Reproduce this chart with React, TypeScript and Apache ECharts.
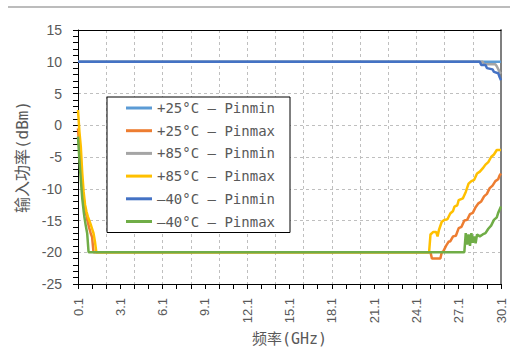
import React, { useEffect, useRef } from "react";
import * as echarts from "echarts";

// ---- data (frequency in GHz, power in dBm) ----
const seriesNames = [
  "+25°C – Pinmin",
  "+25°C – Pinmax",
  "+85°C – Pinmin",
  "+85°C – Pinmax",
  "–40°C – Pinmin",
  "–40°C – Pinmax",
];
const seriesColors = ["#5B9BD5", "#ED7D31", "#A5A5A5", "#FFC000", "#4472C4", "#70AD47"];

const f25min = [0.1, 30.1];
const v25min = [10, 10];

const f25max = [0.1, 0.2, 0.3, 0.4, 0.5, 0.6, 0.7, 0.8, 0.9, 1.0, 1.1, 1.2, 25.1, 25.2, 25.8, 25.9, 26.0, 26.2, 26.4, 26.5, 26.7, 26.9, 27.1, 27.3, 27.5, 27.7, 27.9, 28.1, 28.3, 28.5, 28.7, 28.9, 29.1, 29.3, 29.5, 29.7, 29.9, 30.0, 30.1];
const v25max = [-0.5, -4, -7, -9.5, -11.5, -13, -14.2, -15.3, -16.2, -17, -17.6, -20, -20, -21, -21, -20, -19.9, -19, -18.3, -18.3, -17.5, -17.4, -16.2, -16, -15, -14.9, -14, -13.8, -12.9, -12.3, -12, -11.2, -10.8, -9.9, -9.5, -8.8, -8.5, -7.9, -7.6];

const f85min = [0.1, 28.8, 28.9, 29.7, 29.8, 30.0, 30.1];
const v85min = [10, 10, 9.6, 9.6, 9.3, 8.4, 8.1];

const f85max = [0.1, 0.2, 0.3, 0.4, 0.5, 0.6, 0.7, 0.8, 0.9, 1.0, 1.1, 1.2, 1.3, 1.4, 25.0, 25.1, 25.3, 25.5, 25.6, 25.7, 25.9, 26.1, 26.3, 26.5, 26.7, 26.8, 27.0, 27.1, 27.4, 27.6, 27.8, 28.0, 28.2, 28.4, 28.6, 28.8, 29.0, 29.2, 29.4, 29.6, 29.8, 30.1];
const v85max = [2.4, -1, -3.4, -7.5, -10.5, -12.5, -13.6, -14.4, -15, -15.6, -16.3, -17, -18.3, -20, -20, -17.2, -16.8, -16.8, -17.5, -16.5, -15.2, -14.9, -14.8, -13.9, -13.5, -12.8, -12.6, -11.8, -11.5, -10.5, -9.2, -8.8, -8.6, -7.6, -7.3, -6.8, -6.2, -5.8, -5, -4.6, -3.9, -3.9];

const fm40min = [0.1, 28.6, 28.7, 29.0, 29.1, 29.5, 29.6, 29.9, 30.0, 30.1];
const vm40min = [10, 10, 9.5, 9.5, 9.0, 8.8, 8.4, 8.2, 7.6, 7.1];

const fm40max = [0.1, 0.2, 0.3, 0.4, 0.5, 0.55, 0.65, 0.75, 0.85, 27.5, 27.6, 27.7, 27.8, 27.9, 28.0, 28.1, 28.2, 28.3, 28.4, 28.6, 28.8, 29.0, 29.2, 29.4, 29.6, 29.8, 29.9, 30.1];
const vm40max = [-1.8, -5.5, -8.6, -11.5, -13.5, -14.4, -15.8, -17, -20, -20, -17, -18.8, -17.2, -19, -17, -18.5, -17.5, -18.6, -17.2, -17.5, -17.2, -17, -16.3, -15.8, -14.9, -14.5, -13.8, -12.8];

const allFreqs = [f25min, f25max, f85min, f85max, fm40min, fm40max];
const allVals = [v25min, v25max, v85min, v85max, vm40min, vm40max];

const xTickStart = 0.1; // first x tick label (GHz)
const yTicks = { min: -25, max: 15, step: 5 };

const FONT = "'DejaVu Sans Mono', 'Noto Sans CJK SC', sans-serif";
const NUM_FONT = "'Liberation Sans', Arial, sans-serif";

export default function App() {
  const ref = useRef<HTMLDivElement>(null);
  useEffect(() => {
    if (!ref.current) return;
    const chart = echarts.init(ref.current, null, { renderer: "svg" });
    const series = seriesNames.map((name, i) => ({
      name,
      type: "line",
      xAxisIndex: 0,
      yAxisIndex: 0,
      showSymbol: false,
      symbol: "none",
      color: seriesColors[i],
      lineStyle: { width: 2.5, color: seriesColors[i] },
      data: allFreqs[i].map((f, j) => [f - xTickStart, allVals[i][j]]),
    }));
    chart.setOption({
      animation: false,
      backgroundColor: "#ffffff",
      textStyle: { fontFamily: FONT },
      graphic: [
        {
          type: "line",
          shape: { x1: 8, y1: 7, x2: 510, y2: 7 },
          style: { stroke: "#a6a6a6", lineWidth: 1.5 },
        },
      ],
      grid: { left: 78, right: 9, top: 30, bottom: 64, containLabel: false, outerBoundsMode: "none" },
      legend: {
        orient: "vertical",
        left: 107,
        top: 97,
        padding: [2, 15, 2, 19],
        itemGap: 4.7,
        itemWidth: 26,
        itemHeight: 3,
        icon: "rect",
        borderColor: "#000",
        borderWidth: 1,
        backgroundColor: "#fff",
        textStyle: { fontFamily: FONT, fontSize: 14, color: "#595959", lineHeight: 18 },
        data: seriesNames,
      },
      xAxis: [
        {
          type: "value",
          min: 0,
          max: 30,
          interval: 3,
          position: "bottom",
          axisLine: { show: true, onZero: false, lineStyle: { color: "#000", width: 1 } },
          axisTick: { show: true, length: 5, lineStyle: { color: "#000" } },
          minorTick: { show: true, splitNumber: 3, length: 5, lineStyle: { color: "#000" } },
          splitLine: { show: false },
          axisLabel: {
            rotate: 90,
            margin: 14,
            fontSize: 13,
            color: "#595959",
            fontFamily: NUM_FONT,
            formatter: (v: number) => (v + xTickStart).toFixed(1),
          },
          name: "频率(GHz)",
          nameLocation: "middle",
          nameGap: 47,
          nameTextStyle: { fontSize: 15, color: "#595959", fontFamily: FONT },
        },
        {
          type: "value",
          min: 0,
          max: 30,
          interval: 2,
          position: "top",
          axisLine: { show: true, onZero: false, lineStyle: { color: "#000", width: 1 } },
          axisTick: { show: false },
          axisLabel: { show: false },
          splitLine: { show: true, lineStyle: { color: "#bfbfbf", type: [3, 3], width: 1 } },
        },
      ],
      yAxis: [
        {
          type: "value",
          min: yTicks.min,
          max: yTicks.max,
          interval: yTicks.step,
          position: "left",
          axisLine: { show: true, onZero: false, lineStyle: { color: "#000", width: 1 } },
          axisTick: { show: true, length: 5, lineStyle: { color: "#000" } },
          minorTick: { show: true, splitNumber: 5, length: 5, lineStyle: { color: "#000" } },
          splitLine: { show: true, lineStyle: { color: "#bfbfbf", type: [3, 3], width: 1 } },
          axisLabel: { fontSize: 14, color: "#595959", margin: 16, fontFamily: NUM_FONT },
          name: "输入功率(dBm)",
          nameLocation: "middle",
          nameRotate: 90,
          nameGap: 45,
          nameTextStyle: { fontSize: 16, color: "#595959", fontFamily: FONT },
        },
        {
          type: "value",
          min: yTicks.min,
          max: yTicks.max,
          interval: yTicks.step,
          position: "right",
          axisLine: { show: true, onZero: false, lineStyle: { color: "#7f7f7f", width: 2 } },
          axisTick: { show: false },
          axisLabel: { show: false },
          splitLine: { show: false },
        },
      ],
      series,
    });
    return () => chart.dispose();
  }, []);
  return (
    <div
      ref={ref}
      style={{ position: "fixed", left: 0, top: 0, width: 510, height: 348 }}
    />
  );
}
